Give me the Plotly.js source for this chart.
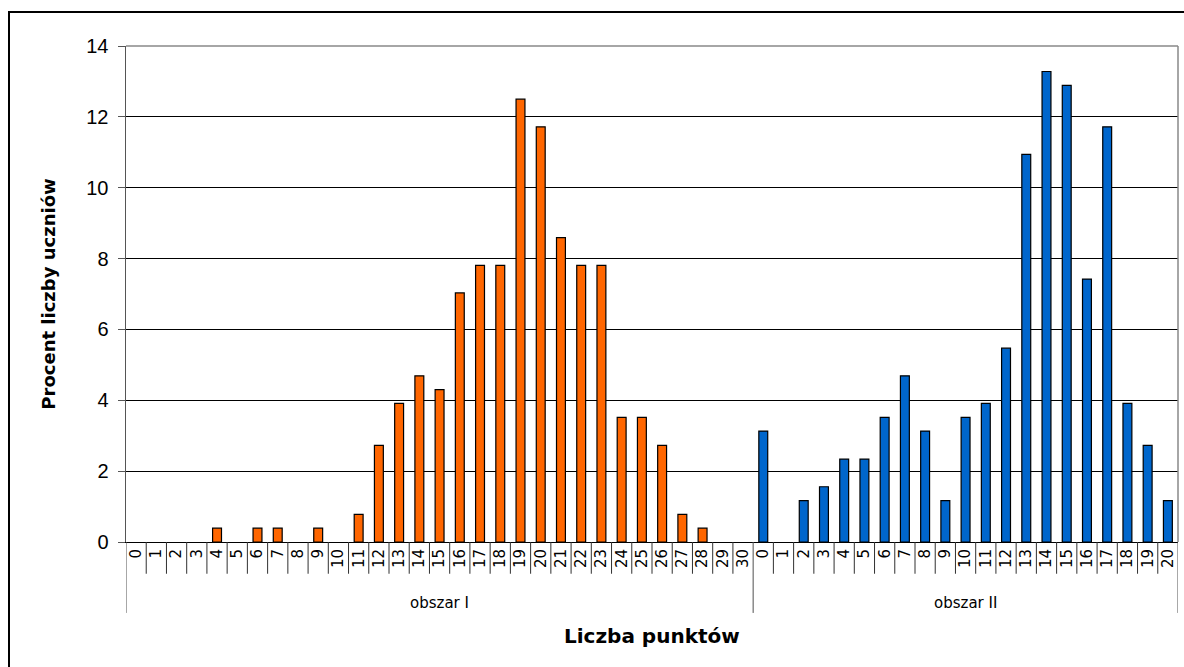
<!DOCTYPE html>
<html><head><meta charset="utf-8">
<script src="https://cdn.plot.ly/plotly-3.0.1.min.js"></script>
<style>html,body{margin:0;padding:0;background:#fff}#chart{width:1184px;height:667px}</style>
</head><body><div id="chart"></div>
<script>
// Data
const groups = ["obszar I", "obszar II"];
const pointsI = ["0","1","2","3","4","5","6","7","8","9","10","11","12","13","14","15","16","17","18","19","20","21","22","23","24","25","26","27","28","29","30"];
const valuesI = [0,0,0,0,0.39,0,0.39,0.39,0,0.39,0,0.78,2.73,3.91,4.69,4.30,7.03,7.81,7.81,12.50,11.72,8.59,7.81,7.81,3.52,3.52,2.73,0.78,0.39,0,0];
const pointsII = ["0","1","2","3","4","5","6","7","8","9","10","11","12","13","14","15","16","17","18","19","20"];
const valuesII = [3.13,0,1.17,1.56,2.34,2.34,3.52,4.69,3.13,1.17,3.52,3.91,5.47,10.94,13.28,12.89,7.42,11.72,3.91,2.73,1.17];
const yTicks = [0,2,4,6,8,10,12,14];

const nI = pointsI.length, nII = pointsII.length, n = nI + nII;
const xI = pointsI.map((_, i) => i);
const xII = pointsII.map((_, i) => nI + i);
const lw = v => v > 0 ? 1.2 : 0;

const traces = [
  {type:'bar', x:xI, y:valuesI, width:0.44, marker:{color:'#FF6600', line:{color:'#000', width:valuesI.map(lw)}}, showlegend:false, hoverinfo:'y'},
  {type:'bar', x:xII, y:valuesII, width:0.44, marker:{color:'#0066CC', line:{color:'#000', width:valuesII.map(lw)}}, showlegend:false, hoverinfo:'y'}
];

const shapes = [];
// category separators
for (let i = 0; i <= n; i++) {
  const isGroup = (i === 0 || i === nI || i === n);
  shapes.push({type:'line', xref:'x', yref:'paper', x0:i-0.5, x1:i-0.5, y0:0, y1:isGroup ? -0.143 : -0.064,
    line:{color: isGroup ? '#505050' : '#303030', width:1}});
}
// plot top and right border (gray)
shapes.push({type:'line', xref:'paper', yref:'paper', x0:0, x1:1, y0:1, y1:1, line:{color:'#888', width:1.5}});
shapes.push({type:'line', xref:'paper', yref:'paper', x0:1, x1:1, y0:0, y1:1, line:{color:'#888', width:1.5}});
// outer frame
shapes.push({type:'rect', xref:'paper', yref:'paper', x0:(9-126)/1052, x1:(1192-126)/1052, y0:-0.3, y1:1+34/496, line:{color:'#000', width:2}, fillcolor:'rgba(0,0,0,0)', layer:'below'});

const annotations = [
  {xref:'x', yref:'paper', x:(nI-1)/2, y:-0.123, text:groups[0], showarrow:false, xanchor:'center', yanchor:'middle',
   font:{family:'DejaVu Sans', size:15, color:'#000'}},
  {xref:'x', yref:'paper', x:nI+(nII-1)/2, y:-0.123, text:groups[1], showarrow:false, xanchor:'center', yanchor:'middle',
   font:{family:'DejaVu Sans', size:15, color:'#000'}},
  {xref:'paper', yref:'paper', x:0.5, y:-0.19, text:'Liczba punktów', showarrow:false, xanchor:'center', yanchor:'middle',
   font:{family:'DejaVu Sans', size:20, color:'#000', weight:'bold'}}
];

const layout = {
  width:1184, height:667,
  margin:{l:126, r:6, t:46, b:125},
  paper_bgcolor:'#fff', plot_bgcolor:'#fff',
  bargap:0,
  xaxis:{
    range:[-0.5, n-0.5], tickmode:'array', tickvals:xI.concat(xII), ticktext:pointsI.concat(pointsII),
    tickangle:-90, ticks:'', showgrid:false, zeroline:false,
    showline:true, linecolor:'#000', linewidth:1,
    tickfont:{family:'DejaVu Sans', size:15, color:'#000'},
    fixedrange:true
  },
  yaxis:{
    range:[0,14], tickmode:'array', tickvals:yTicks, ticktext:yTicks.map(String),
    ticks:'outside', ticklen:7, tickcolor:'#555', tickwidth:1,
    showgrid:true, gridcolor:'#000', gridwidth:1, zeroline:false,
    showline:true, linecolor:'#555', linewidth:1.5, mirror:false,
    tickfont:{family:'Liberation Sans', size:20, color:'#000'},
    ticklabelstandoff:5,
    title:{text:'Procent liczby uczniów', font:{family:'DejaVu Sans', size:18, color:'#000', weight:'bold'}, standoff:26},
    fixedrange:true
  },
  shapes: shapes,
  annotations: annotations
};

Plotly.newPlot('chart', traces, layout, {displayModeBar:false, staticPlot:true});
</script>
</body></html>
